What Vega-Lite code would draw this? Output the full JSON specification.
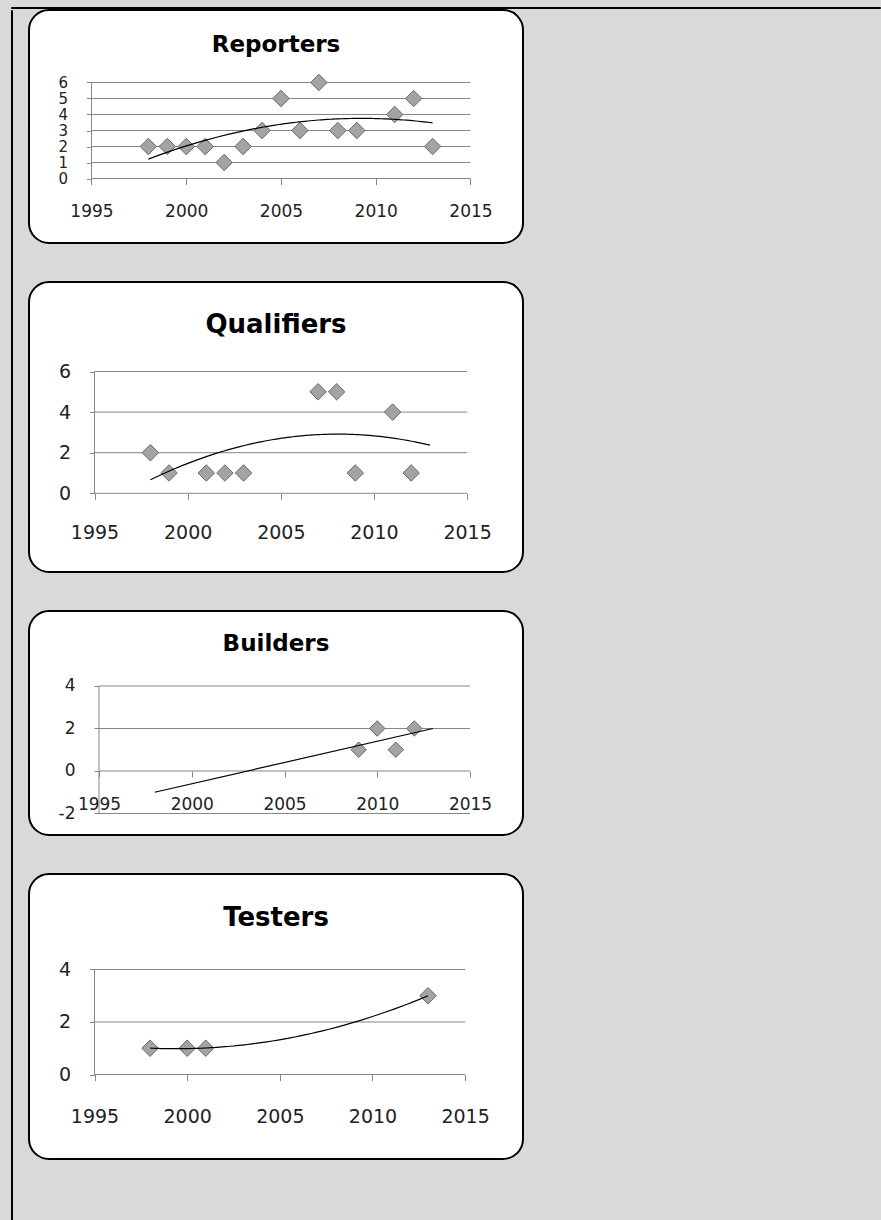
{
  "$schema": "https://vega.github.io/schema/vega-lite/v6.json",
  "background": "#d9d9d9",
  "padding": {"top": 6, "left": 10, "right": 0, "bottom": 0},
  "spacing": 0,
  "config": {
    "axis": {"grid": false, "domain": false, "ticks": true, "tickColor": "#868686", "tickWidth": 1, "labelColor": "#222222", "labelFont": "DejaVu Sans", "labelFlush": false, "labelOverlap": false}
  },
  "vconcat": [
    {
      "width": 869, "height": 1,
      "data": {"values": []},
      "mark": "point",
      "view": {"fill": null, "stroke": "black", "strokeWidth": 1}
    },
    {
      "spacing": 15,
      "hconcat": [
        {
          "width": 1, "height": 1210,
          "data": {"values": []},
          "mark": "point",
          "view": {"fill": null, "stroke": "black", "strokeWidth": 1}
        },
        {
          "spacing": 37,
          "vconcat": [
            {
              "width": 494, "height": 233,
              "view": {"fill": "white", "stroke": "black", "strokeWidth": 2, "cornerRadius": 20},
              "title": {"text": "Reporters", "font": "DejaVu Sans", "fontSize": 23, "fontWeight": "bold", "color": "black", "baseline": "alphabetic", "offset": -65, "anchor": "middle", "frame": "group"},
              "data": {"values": [
                {"year": 1998, "value": 2}, {"year": 1999, "value": 2}, {"year": 2000, "value": 2}, {"year": 2001, "value": 2},
                {"year": 2002, "value": 1}, {"year": 2003, "value": 2}, {"year": 2004, "value": 3}, {"year": 2005, "value": 5},
                {"year": 2006, "value": 3}, {"year": 2007, "value": 6}, {"year": 2008, "value": 3}, {"year": 2009, "value": 3},
                {"year": 2011, "value": 4}, {"year": 2012, "value": 5}, {"year": 2013, "value": 2}
              ]},
              "layer": [
                {
                  "data": {"values": [{"v": 0}, {"v": 1}, {"v": 2}, {"v": 3}, {"v": 4}, {"v": 5}, {"v": 6}]},
                  "mark": {"type": "rule", "color": "#868686", "strokeWidth": 1},
                  "encoding": {
                    "x": {"datum": 1995, "type": "quantitative", "scale": {"domain": [1991.702, 2017.771], "nice": false, "zero": false},
                      "axis": {"orient": "bottom", "offset": -64.5, "values": [1995, 2000, 2005, 2010, 2015], "title": null, "tickSize": 6, "labelFontSize": 17, "labelPadding": 18.8, "labelExpr": "'' + datum.value"}},
                    "x2": {"datum": 2015},
                    "y": {"field": "v", "type": "quantitative", "scale": {"domain": [-4.031, 10.531], "nice": false, "zero": false},
                      "axis": {"orient": "left", "offset": -62.5, "values": [0, 1, 2, 3, 4, 5, 6], "title": null, "tickSize": 5, "labelFontSize": 15, "labelPadding": 19, "labelExpr": "'' + datum.value"}}
                  }
                },
                {
                  "data": {"values": [{"v": 0}]},
                  "mark": {"type": "rule", "color": "#868686", "strokeWidth": 1},
                  "encoding": {
                    "x": {"datum": 1995, "type": "quantitative", "scale": {"domain": [1991.702, 2017.771], "nice": false, "zero": false},
                      "axis": {"orient": "bottom", "offset": -64.5, "values": [1995, 2000, 2005, 2010, 2015], "title": null, "tickSize": 6, "labelFontSize": 17, "labelPadding": 18.8, "labelExpr": "'' + datum.value"}},
                    "y": {"datum": 0, "type": "quantitative", "scale": {"domain": [-4.031, 10.531], "nice": false, "zero": false},
                      "axis": {"orient": "left", "offset": -62.5, "values": [0, 1, 2, 3, 4, 5, 6], "title": null, "tickSize": 5, "labelFontSize": 15, "labelPadding": 19, "labelExpr": "'' + datum.value"}},
                    "y2": {"datum": 6}
                  }
                },
                {
                  "mark": {"type": "point", "shape": "diamond", "filled": true, "fill": "#a3a3a3", "stroke": "#6a6a6a", "strokeWidth": 1, "size": 272, "opacity": 1},
                  "encoding": {
                    "x": {"field": "year", "type": "quantitative", "scale": {"domain": [1991.702, 2017.771], "nice": false, "zero": false},
                      "axis": {"orient": "bottom", "offset": -64.5, "values": [1995, 2000, 2005, 2010, 2015], "title": null, "tickSize": 6, "labelFontSize": 17, "labelPadding": 18.8, "labelExpr": "'' + datum.value"}},
                    "y": {"field": "value", "type": "quantitative", "scale": {"domain": [-4.031, 10.531], "nice": false, "zero": false},
                      "axis": {"orient": "left", "offset": -62.5, "values": [0, 1, 2, 3, 4, 5, 6], "title": null, "tickSize": 5, "labelFontSize": 15, "labelPadding": 19, "labelExpr": "'' + datum.value"}}
                  }
                },
                {
                  "transform": [{"regression": "value", "on": "year", "method": "poly", "order": 2, "extent": [1998, 2013]}],
                  "mark": {"type": "line", "color": "black", "strokeWidth": 1.2},
                  "encoding": {
                    "x": {"field": "year", "type": "quantitative", "scale": {"domain": [1991.702, 2017.771], "nice": false, "zero": false},
                      "axis": {"orient": "bottom", "offset": -64.5, "values": [1995, 2000, 2005, 2010, 2015], "title": null, "tickSize": 6, "labelFontSize": 17, "labelPadding": 18.8, "labelExpr": "'' + datum.value"}},
                    "y": {"field": "value", "type": "quantitative", "scale": {"domain": [-4.031, 10.531], "nice": false, "zero": false},
                      "axis": {"orient": "left", "offset": -62.5, "values": [0, 1, 2, 3, 4, 5, 6], "title": null, "tickSize": 5, "labelFontSize": 15, "labelPadding": 19, "labelExpr": "'' + datum.value"}}
                  }
                }
              ]
            },
            {
              "width": 494, "height": 290,
              "view": {"fill": "white", "stroke": "black", "strokeWidth": 2, "cornerRadius": 20},
              "title": {"text": "Qualifiers", "font": "DejaVu Sans", "fontSize": 26, "fontWeight": "bold", "color": "black", "baseline": "alphabetic", "offset": -77, "anchor": "middle", "frame": "group"},
              "data": {"values": [
                {"year": 1998, "value": 2}, {"year": 1999, "value": 1}, {"year": 2001, "value": 1}, {"year": 2002, "value": 1},
                {"year": 2003, "value": 1}, {"year": 2007, "value": 5}, {"year": 2008, "value": 5}, {"year": 2009, "value": 1},
                {"year": 2011, "value": 4}, {"year": 2012, "value": 1}
              ]},
              "layer": [
                {
                  "data": {"values": [{"v": 0}, {"v": 2}, {"v": 4}, {"v": 6}]},
                  "mark": {"type": "rule", "color": "#868686", "strokeWidth": 1},
                  "encoding": {
                    "x": {"datum": 1995, "type": "quantitative", "scale": {"domain": [1991.484, 2018.0], "nice": false, "zero": false},
                      "axis": {"orient": "bottom", "offset": -78.7, "values": [1995, 2000, 2005, 2010, 2015], "title": null, "tickSize": 6, "labelFontSize": 19, "labelPadding": 24.4, "labelExpr": "'' + datum.value"}},
                    "x2": {"datum": 2015},
                    "y": {"field": "v", "type": "quantitative", "scale": {"domain": [-3.877, 10.409], "nice": false, "zero": false},
                      "axis": {"orient": "left", "offset": -65.5, "values": [0, 2, 4, 6], "title": null, "tickSize": 5, "labelFontSize": 19, "labelPadding": 19, "labelExpr": "'' + datum.value"}}
                  }
                },
                {
                  "data": {"values": [{"v": 0}]},
                  "mark": {"type": "rule", "color": "#868686", "strokeWidth": 1},
                  "encoding": {
                    "x": {"datum": 1995, "type": "quantitative", "scale": {"domain": [1991.484, 2018.0], "nice": false, "zero": false},
                      "axis": {"orient": "bottom", "offset": -78.7, "values": [1995, 2000, 2005, 2010, 2015], "title": null, "tickSize": 6, "labelFontSize": 19, "labelPadding": 24.4, "labelExpr": "'' + datum.value"}},
                    "y": {"datum": 0, "type": "quantitative", "scale": {"domain": [-3.877, 10.409], "nice": false, "zero": false},
                      "axis": {"orient": "left", "offset": -65.5, "values": [0, 2, 4, 6], "title": null, "tickSize": 5, "labelFontSize": 19, "labelPadding": 19, "labelExpr": "'' + datum.value"}},
                    "y2": {"datum": 6}
                  }
                },
                {
                  "mark": {"type": "point", "shape": "diamond", "filled": true, "fill": "#a3a3a3", "stroke": "#6a6a6a", "strokeWidth": 1, "size": 272, "opacity": 1},
                  "encoding": {
                    "x": {"field": "year", "type": "quantitative", "scale": {"domain": [1991.484, 2018.0], "nice": false, "zero": false},
                      "axis": {"orient": "bottom", "offset": -78.7, "values": [1995, 2000, 2005, 2010, 2015], "title": null, "tickSize": 6, "labelFontSize": 19, "labelPadding": 24.4, "labelExpr": "'' + datum.value"}},
                    "y": {"field": "value", "type": "quantitative", "scale": {"domain": [-3.877, 10.409], "nice": false, "zero": false},
                      "axis": {"orient": "left", "offset": -65.5, "values": [0, 2, 4, 6], "title": null, "tickSize": 5, "labelFontSize": 19, "labelPadding": 19, "labelExpr": "'' + datum.value"}}
                  }
                },
                {
                  "transform": [{"regression": "value", "on": "year", "method": "poly", "order": 2, "extent": [1998, 2013]}],
                  "mark": {"type": "line", "color": "black", "strokeWidth": 1.2},
                  "encoding": {
                    "x": {"field": "year", "type": "quantitative", "scale": {"domain": [1991.484, 2018.0], "nice": false, "zero": false},
                      "axis": {"orient": "bottom", "offset": -78.7, "values": [1995, 2000, 2005, 2010, 2015], "title": null, "tickSize": 6, "labelFontSize": 19, "labelPadding": 24.4, "labelExpr": "'' + datum.value"}},
                    "y": {"field": "value", "type": "quantitative", "scale": {"domain": [-3.877, 10.409], "nice": false, "zero": false},
                      "axis": {"orient": "left", "offset": -65.5, "values": [0, 2, 4, 6], "title": null, "tickSize": 5, "labelFontSize": 19, "labelPadding": 19, "labelExpr": "'' + datum.value"}}
                  }
                }
              ]
            },
            {
              "width": 494, "height": 224,
              "view": {"fill": "white", "stroke": "black", "strokeWidth": 2, "cornerRadius": 20},
              "title": {"text": "Builders", "font": "DejaVu Sans", "fontSize": 23, "fontWeight": "bold", "color": "black", "baseline": "alphabetic", "offset": -63, "anchor": "middle", "frame": "group"},
              "data": {"values": [
                {"year": 2009, "value": 1}, {"year": 2010, "value": 2}, {"year": 2011, "value": 1}, {"year": 2012, "value": 2}
              ]},
              "layer": [
                {
                  "data": {"values": [{"v": -2}, {"v": 0}, {"v": 2}, {"v": 4}]},
                  "mark": {"type": "rule", "color": "#868686", "strokeWidth": 1},
                  "encoding": {
                    "x": {"datum": 1995, "type": "quantitative", "scale": {"domain": [1991.226, 2017.857], "nice": false, "zero": false},
                      "axis": {"orient": "bottom", "offset": -64, "values": [1995, 2000, 2005, 2010, 2015], "title": null, "tickSize": 6, "labelFontSize": 17, "labelPadding": 19.8, "labelExpr": "'' + datum.value"}},
                    "x2": {"datum": 2015},
                    "y": {"field": "v", "type": "quantitative", "scale": {"domain": [-3.012, 7.529], "nice": false, "zero": false},
                      "axis": {"orient": "left", "offset": -70, "values": [-2, 0, 2, 4], "title": null, "tickSize": 5, "labelFontSize": 17, "labelPadding": 19, "labelExpr": "'' + datum.value"}}
                  }
                },
                {
                  "data": {"values": [{"v": 0}]},
                  "mark": {"type": "rule", "color": "#868686", "strokeWidth": 1},
                  "encoding": {
                    "x": {"datum": 1995, "type": "quantitative", "scale": {"domain": [1991.226, 2017.857], "nice": false, "zero": false},
                      "axis": {"orient": "bottom", "offset": -64, "values": [1995, 2000, 2005, 2010, 2015], "title": null, "tickSize": 6, "labelFontSize": 17, "labelPadding": 19.8, "labelExpr": "'' + datum.value"}},
                    "y": {"datum": -2, "type": "quantitative", "scale": {"domain": [-3.012, 7.529], "nice": false, "zero": false},
                      "axis": {"orient": "left", "offset": -70, "values": [-2, 0, 2, 4], "title": null, "tickSize": 5, "labelFontSize": 17, "labelPadding": 19, "labelExpr": "'' + datum.value"}},
                    "y2": {"datum": 4}
                  }
                },
                {
                  "mark": {"type": "point", "shape": "diamond", "filled": true, "fill": "#a3a3a3", "stroke": "#6a6a6a", "strokeWidth": 1, "size": 240, "opacity": 1},
                  "encoding": {
                    "x": {"field": "year", "type": "quantitative", "scale": {"domain": [1991.226, 2017.857], "nice": false, "zero": false},
                      "axis": {"orient": "bottom", "offset": -64, "values": [1995, 2000, 2005, 2010, 2015], "title": null, "tickSize": 6, "labelFontSize": 17, "labelPadding": 19.8, "labelExpr": "'' + datum.value"}},
                    "y": {"field": "value", "type": "quantitative", "scale": {"domain": [-3.012, 7.529], "nice": false, "zero": false},
                      "axis": {"orient": "left", "offset": -70, "values": [-2, 0, 2, 4], "title": null, "tickSize": 5, "labelFontSize": 17, "labelPadding": 19, "labelExpr": "'' + datum.value"}}
                  }
                },
                {
                  "transform": [{"regression": "value", "on": "year", "method": "linear", "extent": [1998, 2013]}],
                  "mark": {"type": "line", "color": "black", "strokeWidth": 1.2},
                  "encoding": {
                    "x": {"field": "year", "type": "quantitative", "scale": {"domain": [1991.226, 2017.857], "nice": false, "zero": false},
                      "axis": {"orient": "bottom", "offset": -64, "values": [1995, 2000, 2005, 2010, 2015], "title": null, "tickSize": 6, "labelFontSize": 17, "labelPadding": 19.8, "labelExpr": "'' + datum.value"}},
                    "y": {"field": "value", "type": "quantitative", "scale": {"domain": [-3.012, 7.529], "nice": false, "zero": false},
                      "axis": {"orient": "left", "offset": -70, "values": [-2, 0, 2, 4], "title": null, "tickSize": 5, "labelFontSize": 17, "labelPadding": 19, "labelExpr": "'' + datum.value"}}
                  }
                }
              ]
            },
            {
              "width": 494, "height": 285,
              "view": {"fill": "white", "stroke": "black", "strokeWidth": 2, "cornerRadius": 20},
              "title": {"text": "Testers", "font": "DejaVu Sans", "fontSize": 26, "fontWeight": "bold", "color": "black", "baseline": "alphabetic", "offset": -78, "anchor": "middle", "frame": "group"},
              "data": {"values": [
                {"year": 1998, "value": 1}, {"year": 2000, "value": 1}, {"year": 2001, "value": 1}, {"year": 2013, "value": 3}
              ]},
              "layer": [
                {
                  "data": {"values": [{"v": 0}, {"v": 2}, {"v": 4}]},
                  "mark": {"type": "rule", "color": "#868686", "strokeWidth": 1},
                  "encoding": {
                    "x": {"datum": 1995, "type": "quantitative", "scale": {"domain": [1991.465, 2018.124], "nice": false, "zero": false},
                      "axis": {"orient": "bottom", "offset": -84.5, "values": [1995, 2000, 2005, 2010, 2015], "title": null, "tickSize": 6, "labelFontSize": 19, "labelPadding": 27.4, "labelExpr": "'' + datum.value"}},
                    "x2": {"datum": 2015},
                    "y": {"field": "v", "type": "quantitative", "scale": {"domain": [-3.219, 7.638], "nice": false, "zero": false},
                      "axis": {"orient": "left", "offset": -65.5, "values": [0, 2, 4], "title": null, "tickSize": 5, "labelFontSize": 19, "labelPadding": 19, "labelExpr": "'' + datum.value"}}
                  }
                },
                {
                  "data": {"values": [{"v": 0}]},
                  "mark": {"type": "rule", "color": "#868686", "strokeWidth": 1},
                  "encoding": {
                    "x": {"datum": 1995, "type": "quantitative", "scale": {"domain": [1991.465, 2018.124], "nice": false, "zero": false},
                      "axis": {"orient": "bottom", "offset": -84.5, "values": [1995, 2000, 2005, 2010, 2015], "title": null, "tickSize": 6, "labelFontSize": 19, "labelPadding": 27.4, "labelExpr": "'' + datum.value"}},
                    "y": {"datum": 0, "type": "quantitative", "scale": {"domain": [-3.219, 7.638], "nice": false, "zero": false},
                      "axis": {"orient": "left", "offset": -65.5, "values": [0, 2, 4], "title": null, "tickSize": 5, "labelFontSize": 19, "labelPadding": 19, "labelExpr": "'' + datum.value"}},
                    "y2": {"datum": 4}
                  }
                },
                {
                  "mark": {"type": "point", "shape": "diamond", "filled": true, "fill": "#a3a3a3", "stroke": "#6a6a6a", "strokeWidth": 1, "size": 272, "opacity": 1},
                  "encoding": {
                    "x": {"field": "year", "type": "quantitative", "scale": {"domain": [1991.465, 2018.124], "nice": false, "zero": false},
                      "axis": {"orient": "bottom", "offset": -84.5, "values": [1995, 2000, 2005, 2010, 2015], "title": null, "tickSize": 6, "labelFontSize": 19, "labelPadding": 27.4, "labelExpr": "'' + datum.value"}},
                    "y": {"field": "value", "type": "quantitative", "scale": {"domain": [-3.219, 7.638], "nice": false, "zero": false},
                      "axis": {"orient": "left", "offset": -65.5, "values": [0, 2, 4], "title": null, "tickSize": 5, "labelFontSize": 19, "labelPadding": 19, "labelExpr": "'' + datum.value"}}
                  }
                },
                {
                  "transform": [{"regression": "value", "on": "year", "method": "poly", "order": 2, "extent": [1998, 2013]}],
                  "mark": {"type": "line", "color": "black", "strokeWidth": 1.2},
                  "encoding": {
                    "x": {"field": "year", "type": "quantitative", "scale": {"domain": [1991.465, 2018.124], "nice": false, "zero": false},
                      "axis": {"orient": "bottom", "offset": -84.5, "values": [1995, 2000, 2005, 2010, 2015], "title": null, "tickSize": 6, "labelFontSize": 19, "labelPadding": 27.4, "labelExpr": "'' + datum.value"}},
                    "y": {"field": "value", "type": "quantitative", "scale": {"domain": [-3.219, 7.638], "nice": false, "zero": false},
                      "axis": {"orient": "left", "offset": -65.5, "values": [0, 2, 4], "title": null, "tickSize": 5, "labelFontSize": 19, "labelPadding": 19, "labelExpr": "'' + datum.value"}}
                  }
                }
              ]
            }
          ]
        }
      ]
    }
  ]
}
